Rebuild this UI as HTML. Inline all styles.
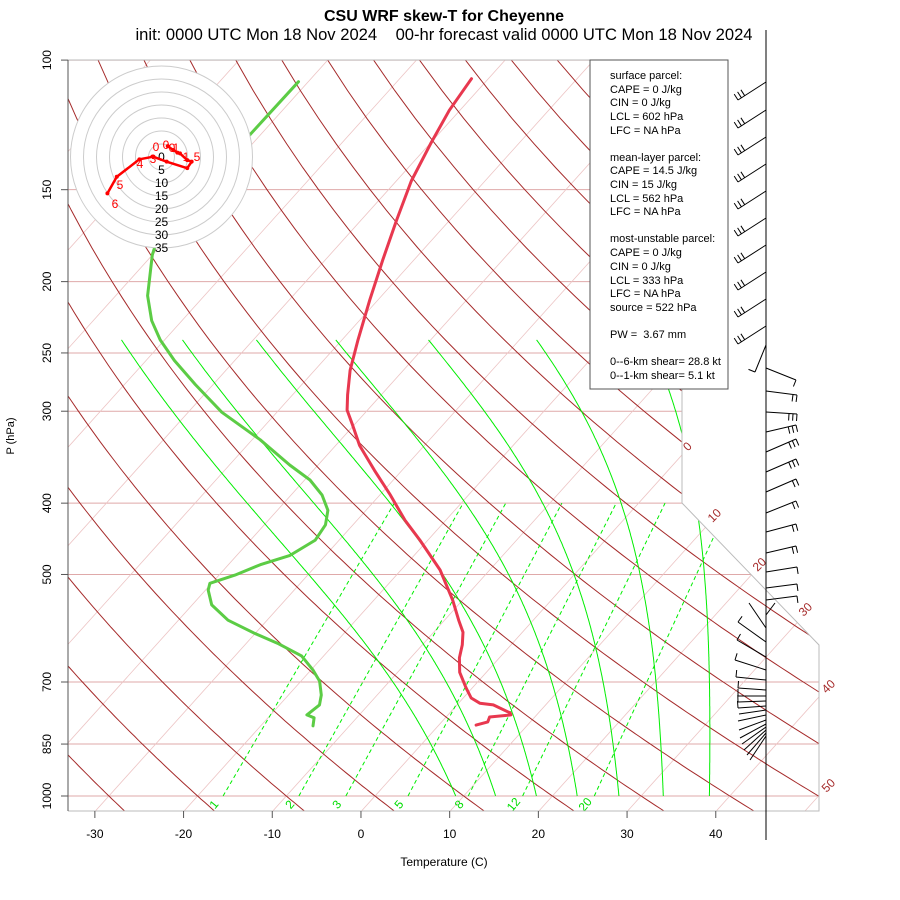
<!DOCTYPE html>
<html><head><meta charset="utf-8"><title>CSU WRF skew-T for Cheyenne</title>
<style>
html,body{margin:0;padding:0;background:#fff;}
svg{display:block;font-family:"Liberation Sans",Arial,sans-serif;}
</style></head>
<body>
<svg id="chart" width="900" height="900" viewBox="0 0 900 900" xmlns="http://www.w3.org/2000/svg">
<defs>
<clipPath id="plotclip"><polygon points="68,60 682,60 682,503 819,645 819,811 68,811"/></clipPath>
</defs>
<rect x="0" y="0" width="900" height="900" fill="#fff"/>
<text x="444" y="21" text-anchor="middle" font-size="16" font-weight="bold">CSU WRF skew-T for Cheyenne</text>
<text x="444" y="40" text-anchor="middle" font-size="16.6" xml:space="preserve">init: 0000 UTC Mon 18 Nov 2024    00-hr forecast valid 0000 UTC Mon 18 Nov 2024</text>
<g id="bg" clip-path="url(#plotclip)"></g>
<g id="frame"></g>
<g id="traces"></g>
<g id="hodo"></g>
<g id="axes"></g>
<g id="barbs"></g>
<g id="info">
<rect x="590" y="60" width="138" height="329" fill="#fff" stroke="#555" stroke-width="1"/>
<g font-size="11" fill="#000">
<text x="610" y="79">surface parcel:</text>
<text x="610" y="93">CAPE = 0 J/kg</text>
<text x="610" y="106">CIN = 0 J/kg</text>
<text x="610" y="120">LCL = 602 hPa</text>
<text x="610" y="134">LFC = NA hPa</text>
<text x="610" y="161">mean-layer parcel:</text>
<text x="610" y="174">CAPE = 14.5 J/kg</text>
<text x="610" y="188">CIN = 15 J/kg</text>
<text x="610" y="202">LCL = 562 hPa</text>
<text x="610" y="215">LFC = NA hPa</text>
<text x="610" y="242">most-unstable parcel:</text>
<text x="610" y="256">CAPE = 0 J/kg</text>
<text x="610" y="270">CIN = 0 J/kg</text>
<text x="610" y="284">LCL = 333 hPa</text>
<text x="610" y="297">LFC = NA hPa</text>
<text x="610" y="311">source = 522 hPa</text>
<text x="610" y="338" xml:space="preserve">PW =  3.67 mm</text>
<text x="610" y="365">0--6-km shear= 28.8 kt</text>
<text x="610" y="379">0--1-km shear= 5.1 kt</text>
</g>
</g>
</svg>
<script>
// ---- sounding data ----
const tempP = [106,117,130,146,165,187,212,240,264,285,299,313,334,361,390,422,449,493,542,577,599,623,649,679,713,736,748,752,771,776,781,793,801];
const tempT = [-61.9,-61.2,-59.9,-58.3,-56.0,-53.5,-50.9,-48.2,-46.0,-43.8,-42.3,-40.2,-37.3,-33.1,-28.8,-24.6,-20.9,-15.6,-11.1,-8.4,-6.7,-5.5,-4.5,-3.0,-0.7,0.9,2.4,4.1,6.8,7.1,4.9,5.2,4.2];
const dewP = [107,126,178,184,209,226,240,256,276,301,328,355,372,390,409,428,449,471,485,501,514,525,550,577,601,620,645,674,698,729,752,776,783,803];
const dewT = [-81.1,-81.2,-80.7,-80.0,-76.4,-73.4,-70.5,-66.8,-62.0,-56.2,-49.1,-43.2,-39.4,-36.5,-34.3,-33.1,-32.7,-34.0,-36.4,-38.2,-40.2,-39.7,-37.8,-34.4,-30.1,-26.5,-22.5,-19.8,-17.9,-16.3,-15.5,-15.9,-14.8,-14.1];
const hodoU = [2.4,4.5,6.1,7.1,9.9,11.6,9.9,2.0,-3.2,-8.5,-17.2,-20.8];
const hodoV = [4.2,2.7,1.7,1.4,-1.2,-1.8,-4.3,-1.8,0.1,-0.9,-7.6,-14.0];
const pressureTicks = [100,150,200,250,300,400,500,700,850,1000];
const tempTicks = [-30,-20,-10,0,10,20,30,40];
const isothermLabels = ["0","10","20","30","40","50"];
const mixingRatios = [1,2,3,5,8,12,20];
const moistStartT = [9.1,13.6,18.2,22.8,27.5,32.5,37.7];
const hodoRings = [5,10,15,20,25,30,35];

const NS = "http://www.w3.org/2000/svg";
function mk(tag, attrs, parent){
  const e = document.createElementNS(NS, tag);
  for (const k in attrs) e.setAttribute(k, attrs[k]);
  parent.appendChild(e);
  return e;
}
const Y = p => 796 - 319.6*Math.log(1000/p);
const X = (T,p) => 375 + 8.87*T + 0.9*(796 - Y(p));
const bg = document.getElementById('bg');
const frame = document.getElementById('frame');
const traces = document.getElementById('traces');
const hodo = document.getElementById('hodo');
const axes = document.getElementById('axes');
const barbs = document.getElementById('barbs');
function poly(pts){ return pts.map(q=>q[0].toFixed(1)+','+q[1].toFixed(1)).join(' '); }

pressureTicks.forEach(p=>{
  const l = mk('line',{x1:68,x2:830,y1:Y(p),y2:Y(p),stroke:'#dfa9a9','stroke-width':1},bg);
  
  
});
for (let T=-160; T<=50; T+=10){
  const l = mk('line',{x1:X(T,1050),y1:Y(1050),x2:X(T,95),y2:Y(95),stroke:'#ecc4c4','stroke-width':0.8},bg);
  
  
}
for (let th=-40; th<=200; th+=10){
  const pts=[];
  for (let p=1060; p>=95; p-=10){ const T=(th+273.15)*Math.pow(p/1000,0.286)-273.15; pts.push([X(T,p),Y(p)]); }
  const l = mk('polyline',{points:poly(pts),fill:'none',stroke:'#a52a2a','stroke-width':1},bg);
  
  
}
moistStartT.forEach(T0=>{
  let T=T0+273.15, p=1000; const pts=[];
  const f = T0<=18 ? 0.8 : 0.8-0.007*(T0-18);
  while (p>=240){
    pts.push([X(T-273.15,p),Y(p)]);
    const es=6.112*Math.exp(17.67*(T-273.15)/(T-29.65));
    const rs=f*0.622*es/(p-es);
    const Lv=2.501e6;
    const dTdp=(287*T+Lv*rs)/(1004+Lv*Lv*rs*0.622/(287*T*T))/p;
    T += dTdp*(-2); p -= 2;
  }
  const l = mk('polyline',{points:poly(pts),fill:'none',stroke:'#00ee00','stroke-width':1},bg);
  
  
});
function tdFromW(w,p){ const e=w*p/(622+w); const a=Math.log(e/6.112); return 243.5*a/(17.67-a); }
mixingRatios.forEach(w=>{
  const l = mk('line',{x1:X(tdFromW(w,1000),1000),y1:Y(1000),x2:X(tdFromW(w,400),400),y2:Y(400),stroke:'#00ee00','stroke-width':1,'stroke-dasharray':'4,3'},bg);
  
  
  const x=X(tdFromW(w,1000),1000)-6, y=807;
  const t = mk('text',{x:x,y:y,'font-size':12,fill:'#00dd00','text-anchor':'middle',transform:`rotate(-50 ${x} ${y})`},frame);
  t.textContent=String(w);
  
  
});

const b = mk('polyline',{points:'68,60 682,60 682,503 819,645 819,811 68,811',fill:'none',stroke:'#bbbbbb','stroke-width':1},frame);


const isoPos=[[688,447],[715,516],[760,565],[806,610],[829,687],[829,786]];
isothermLabels.forEach((s,i)=>{
  const [x,y]=isoPos[i];
  const t = mk('text',{x:x,y:y,'font-size':12,fill:'#a52a2a','text-anchor':'middle','dominant-baseline':'middle',transform:`rotate(-45 ${x} ${y})`},frame);
  t.textContent=s;
  
  
});

const tp = mk('polyline',{points:poly(tempP.map((p,i)=>[X(tempT[i],p),Y(p)])),fill:'none',stroke:'#e8384f','stroke-width':3,'stroke-linejoin':'round','stroke-linecap':'round'},traces);


const dp = mk('polyline',{points:poly(dewP.map((p,i)=>[X(dewT[i],p),Y(p)])),fill:'none',stroke:'#5ccc45','stroke-width':3,'stroke-linejoin':'round','stroke-linecap':'round'},traces);



const hcx=161.5, hcy=157, kpx=13/5;
const hb = mk('circle',{cx:hcx,cy:hcy,r:35*kpx,fill:'#fff',stroke:'none'},hodo);


hodoRings.forEach(r=>{
  const c = mk('circle',{cx:hcx,cy:hcy,r:r*kpx,fill:'none',stroke:'#cccccc','stroke-width':1},hodo);
  
  
});
['0'].concat(hodoRings.map(String)).forEach((s,i)=>{
  const t = mk('text',{x:hcx,y:hcy+i*kpx*5+4,'font-size':12,'text-anchor':'middle',fill:'#000'},hodo);
  t.textContent=s;
  
  
});
const hp = hodoU.map((u,i)=>[hcx+u*kpx, hcy-hodoV[i]*kpx]);
const hl = mk('polyline',{points:poly(hp),fill:'none',stroke:'#ff0000','stroke-width':2.5,'stroke-linejoin':'round'},hodo);


hp.forEach(q=>{
  const c = mk('circle',{cx:q[0],cy:q[1],r:2,fill:'#ff0000'},hodo);
  
  
});
[['0',156,151],['0',166,149],['0',172,152],['1',176,152],['1',186,161],['5',197,161],['3',153,163],['4',140,168],['5',120,189],['6',115,208]].forEach(a=>{
  const t = mk('text',{x:a[1],y:a[2],'font-size':12,'text-anchor':'middle',fill:'#ff0000'},hodo);
  t.textContent=a[0];
  
  
});

const ya = mk('line',{x1:68,y1:60,x2:68,y2:811,stroke:'#555','stroke-width':1},axes);


pressureTicks.forEach(p=>{
  const y=Y(p);
  const tk = mk('line',{x1:61,x2:68,y1:y,y2:y,stroke:'#555'},axes);
  
  
  const t = mk('text',{x:51,y:y,'font-size':12,'text-anchor':'middle',transform:`rotate(-90 51 ${y})`},axes);
  t.textContent=String(p);
  
  
});
const yt = mk('text',{x:14,y:436,'font-size':11,'text-anchor':'middle',transform:'rotate(-90 14 436)'},axes);
yt.textContent='P (hPa)';


tempTicks.forEach(T=>{
  const x=X(T,1050);
  const tk = mk('line',{x1:x,x2:x,y1:811,y2:818,stroke:'#555'},axes);
  
  
  const t = mk('text',{x:x,y:838,'font-size':12,'text-anchor':'middle'},axes);
  t.textContent=String(T);
  
  
});
const xt = mk('text',{x:444,y:866,'font-size':12,'text-anchor':'middle'},axes);
xt.textContent='Temperature (C)';



const barbBaseY = [82,110,137,164,191,218,245,272,299,326,345,368,391,412,432,452,472,492,513,532,553,572,588,600,615,628,642,657,670,680,690,696,701,706,710,715,720,724,727,730,733,736];
const barbDx = [-28,-28,-28,-28,-28,-28,-28,-28,-28,-28,-11,30,31,31,30,30,30,30,30,30,30,31,31,31,9,-17,-28,-29,-31,-30,-28,-28,-28,-28,-27,-28,-27,-26,-24,-22,-19,-16];
const barbDy = [18,18,18,18,18,18,18,18,18,18,27,12,4,2,-7,-13,-13,-13,-12,-8,-7,-5,-4,-4,-12,-25,-20,-17,-10,-3,-2,0,1,2,4,6,10,14,17,20,22,24];
const barbN = [3,3,3,3,3,3,3,3,3,3,1,1,2,3,3,3,3,2,2,2,2,1,1,1,0,0,1,1,1,1,1,1,1,1,0,0,0,0,0,0,0,0];
const staff = mk('line',{x1:766,y1:30,x2:766,y2:840,stroke:'#000','stroke-width':1},barbs);


barbBaseY.forEach((y0,i)=>{
  const x0=766, x1=x0+barbDx[i], y1=y0+barbDy[i];
  const len=Math.hypot(barbDx[i],barbDy[i]);
  const ux=barbDx[i]/len, uy=barbDy[i]/len;
  const nx=-uy, ny=ux;
  let d=`M${x0},${y0} L${x1},${y1}`;
  for(let k=0;k<barbN[i];k++){
    const px=x1-ux*k*4, py=y1-uy*k*4;
    d+=` M${px.toFixed(1)},${py.toFixed(1)} L${(px+nx*7).toFixed(1)},${(py+ny*7).toFixed(1)}`;
  }
  const pth = mk('path',{d:d,fill:'none',stroke:'#000','stroke-width':1},barbs);
  
  
});
</script>
</body></html>
